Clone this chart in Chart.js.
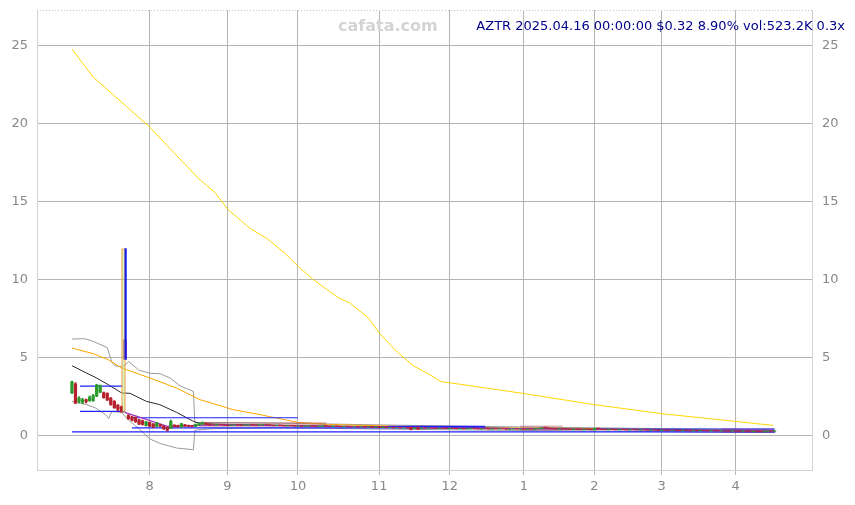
<!DOCTYPE html>
<html>
<head>
<meta charset="utf-8">
<script src="https://cdn.jsdelivr.net/npm/chart.js@4.4.1/dist/chart.umd.min.js"></script>
<style>
  html, body { margin: 0; padding: 0; background: #fff; }
  #wrap { position: relative; width: 855px; height: 505px; }
  #chart { display: block; }
  #mark { position: absolute; left: 338px; top: 16px; font: bold 16px "DejaVu Sans"; color: #d4d4d4; }
  #label { position: absolute; right: 10px; top: 18px; font: 13px "DejaVu Sans"; color: #00008b; white-space: nowrap; }
</style>
</head>
<body>
<div id="wrap">
  <canvas id="chart" width="855" height="505"></canvas>
  <div id="mark">cafata.com</div>
  <div id="label">AZTR 2025.04.16 00:00:00 $0.32 8.90% vol:523.2K 0.3x</div>
</div>
<script>
// daily candles, one per trading day from 2024-07-01 to 2025-04-16
const opens = [
  2.75,3.30,2.20,2.15,2.30,2.25,2.25,2.55,2.80,2.75,
  2.70,2.40,2.20,1.95,1.85,6.15,1.30,1.20,1.15,1.00,
  0.95,0.65,0.85,0.75,0.60,0.70,0.62,0.52,0.47,0.68,
  0.65,0.56,0.70,0.66,0.64,0.60,0.68,0.75,0.80,0.74,
  0.70,0.67,0.73,0.70,0.67,0.64,0.67,0.71,0.68,0.65,
  0.68,0.72,0.69,0.66,0.69,0.72,0.70,0.67,0.64,0.68,
  0.66,0.62,0.67,0.65,0.60,0.64,0.59,0.61,0.66,0.62,
  0.58,0.60,0.65,0.61,0.58,0.63,0.60,0.56,0.61,0.59,
  0.55,0.59,0.54,0.58,0.53,0.57,0.52,0.56,0.51,0.55,
  0.50,0.54,0.49,0.53,0.48,0.52,0.55,0.45,0.55,0.44,
  0.50,0.46,0.51,0.49,0.45,0.50,0.48,0.44,0.49,0.47,
  0.43,0.47,0.42,0.44,0.48,0.45,0.41,0.46,0.44,0.40,
  0.45,0.41,0.46,0.44,0.39,0.41,0.45,0.40,0.44,0.39,
  0.43,0.40,0.44,0.46,0.55,0.51,0.47,0.45,0.41,0.46,
  0.44,0.42,0.38,0.43,0.41,0.37,0.42,0.40,0.36,0.49,
  0.43,0.41,0.37,0.42,0.40,0.36,0.41,0.39,0.35,0.40,
  0.38,0.34,0.39,0.37,0.33,0.38,0.36,0.32,0.37,0.35,
  0.32,0.36,0.34,0.30,0.35,0.33,0.29,0.34,0.30,0.35,
  0.33,0.29,0.34,0.32,0.28,0.33,0.31,0.27,0.32,0.30,
  0.27,0.31,0.29,0.25,0.30,0.28,0.24,0.27,0.31,0.28
];
const closes = [
  3.45,2.10,2.40,2.30,2.20,2.45,2.55,3.25,3.20,2.45,
  2.30,2.00,1.80,1.70,1.55,4.90,1.10,1.00,0.90,0.75,
  0.72,0.88,0.62,0.56,0.82,0.62,0.45,0.35,0.90,0.60,
  0.58,0.76,0.62,0.60,0.58,0.72,0.78,0.82,0.72,0.70,
  0.68,0.72,0.70,0.66,0.64,0.68,0.70,0.67,0.65,0.69,
  0.71,0.68,0.66,0.70,0.72,0.69,0.66,0.64,0.67,0.65,
  0.63,0.66,0.64,0.61,0.63,0.60,0.62,0.65,0.61,0.59,
  0.61,0.64,0.60,0.58,0.62,0.59,0.57,0.60,0.58,0.56,
  0.58,0.55,0.57,0.54,0.56,0.53,0.55,0.52,0.54,0.51,
  0.53,0.50,0.52,0.49,0.51,0.48,0.38,0.50,0.40,0.49,
  0.47,0.50,0.48,0.46,0.49,0.47,0.45,0.48,0.46,0.44,
  0.46,0.43,0.45,0.47,0.44,0.42,0.45,0.43,0.41,0.44,
  0.42,0.45,0.43,0.40,0.42,0.44,0.41,0.43,0.40,0.42,
  0.41,0.44,0.47,0.52,0.50,0.46,0.44,0.42,0.45,0.43,
  0.41,0.39,0.42,0.40,0.38,0.41,0.39,0.37,0.48,0.42,
  0.40,0.38,0.41,0.39,0.37,0.40,0.38,0.36,0.39,0.37,
  0.35,0.38,0.36,0.34,0.37,0.35,0.33,0.36,0.34,0.32,
  0.35,0.33,0.31,0.34,0.32,0.30,0.33,0.31,0.34,0.32,
  0.30,0.33,0.31,0.29,0.32,0.30,0.28,0.31,0.29,0.27,
  0.30,0.28,0.26,0.29,0.27,0.25,0.28,0.30,0.29,0.32
];
// wicks, only where they are big enough to see (first 40 days)
const highs = [
  3.50,3.40,2.50,2.40,2.35,2.55,2.65,3.30,3.25,2.80,
  2.75,2.45,2.25,2.00,1.90,12.0,1.35,1.25,1.20,1.05,
  1.00,0.92,0.88,0.78,0.85,0.74,0.65,0.55,1.00,0.70,
  0.68,0.80,0.72,0.68,0.66,0.75,0.82,0.88,0.82,0.77
];
const lows = [
  2.70,2.05,2.10,2.05,2.10,2.20,2.20,2.50,2.75,2.40,
  2.25,1.95,1.75,1.60,1.50,4.90,1.05,0.95,0.85,0.70,
  0.68,0.62,0.58,0.52,0.58,0.58,0.40,0.30,0.45,0.56,
  0.55,0.54,0.60,0.58,0.56,0.58,0.66,0.73,0.70,0.67
];

// spike day highlight
const spikeDay = 15;
const spikeRange = [1.47, 12.0];

// x axis: trading-day index of each month start
const monthStarts = [22, 44, 64, 87, 107, 128, 148, 167, 188];
const monthLabels = ['8', '9', '10', '11', '12', '1', '2', '3', '4'];
const priceTicks = [0, 5, 10, 15, 20, 25];

// indicator lines, read at a few days each
const goldDays = [0,6,15.5,22,27.8,36.3,40.5,44.2,50.4,55.5,60.3,64.1,68.4,75.4,78.8,83.9,87,91.5,96.6,101.4,104.5,106.8,127.5,147.7,167.1,187.8,198.6];
const goldVals = [24.8,23.0,21.1,19.8,18.4,16.4,15.6,14.5,13.3,12.6,11.7,10.85,10.0,8.85,8.5,7.56,6.6,5.5,4.5,3.9,3.46,3.4,2.72,2.0,1.41,0.92,0.66];

const orangeDays = [0,6,10.3,14.1,22.1,29.6,36.3,45.6,53.3,64,73,93,121,150,178,199];
const orangeVals = [5.62,5.26,4.87,4.34,3.7,3.06,2.31,1.67,1.35,0.85,0.72,0.6,0.5,0.45,0.38,0.33];

const blackDays = [0,4.1,7,10.3,14.1,16.4,21.1,24.9,29.6,34.4,36.3,45,70,100,130,160,199];
const blackVals = [4.49,4.02,3.7,3.27,2.74,2.72,2.2,1.99,1.5,0.92,0.77,0.72,0.62,0.55,0.45,0.4,0.3];

const upperDays = [0,3.6,6,10,11.3,12,14.3,16.1,19,22.1,25,27.8,30.6,34.4,34.8,40,60,90,120,150,180,199];
const upperVals = [6.2,6.22,6.05,5.65,4.72,4.5,4.4,4.75,4.2,4.0,3.97,3.7,3.2,2.84,0.85,0.85,0.8,0.68,0.58,0.5,0.42,0.37];

const lowerDays = [0,4,6.5,9.5,10.4,11.3,14,16,19,22,25,29.6,34.4,34.8,40,60,90,120,150,180,199];
const lowerVals = [2.2,2.0,1.8,1.35,1.1,1.55,1.5,1.0,0.45,-0.2,-0.5,-0.79,-0.9,0.35,0.45,0.5,0.42,0.35,0.3,0.22,0.2];

const purpleDays = [14,20,27,40,60,80,100,120,140,160,180,199];
const purpleVals = [1.56,1.13,0.6,0.7,0.65,0.58,0.5,0.47,0.42,0.38,0.33,0.3];

// horizontal price levels: first day, last day, price
const levelFrom = [2.3, 2.3, 17, 17, 89.5, 0, 148];
const levelTo = [14.4, 15, 64, 117, 117, 199.2, 199];
const levelPrice = [3.18, 1.56, 1.15, 0.5, 0.6, 0.25, 0.43];

// shaded price zones: first day, last day, price
const zoneFrom = [36, 127, 184];
const zoneTo = [72, 139, 199];
const zonePrice = [0.72, 0.5, 0.33];

const upColor = '#2e9a2e';
const downColor = '#b5222d';

const days = opens.map((_, i) => i);
const colors = days.map(i => closes[i] >= opens[i] ? upColor : downColor);

function curve(xs, ys, color, width, order) {
  return {
    type: 'line',
    data: xs.map((x, k) => ({ x: x, y: ys[k] })),
    borderColor: color,
    borderWidth: width,
    pointRadius: 0,
    tension: 0,
    fill: false,
    order: order
  };
}

const datasets = [
  {
    // wicks on top, so the blue spike wick stays bright
    type: 'bar',
    data: highs.map((h, i) => ({ x: i === spikeDay ? i + 0.2 : i, y: [lows[i], h] })),
    backgroundColor: highs.map((h, i) => i === spikeDay ? '#1414f0' : colors[i]),
    barThickness: 1.5,
    grouped: false,
    order: 0
  },
  {
    type: 'bar',
    data: [{ x: spikeDay - 0.4, y: spikeRange }],
    backgroundColor: 'rgba(190,225,120,0.45)',
    borderColor: 'rgba(235,150,60,0.7)',
    borderWidth: 1,
    barThickness: 4,
    grouped: false,
    order: 0.5
  },
  {
    type: 'bar',
    data: days.map(i => ({ x: i, y: [opens[i], closes[i]] })),
    backgroundColor: days.map(i => i === spikeDay ? '#8a1f5a' : colors[i]),
    barThickness: 2.6,
    grouped: false,
    order: 1
  },
  curve(purpleDays, purpleVals, '#a035c0', 1.2, 3),
  curve(blackDays, blackVals, '#2a2a2a', 1, 6),
  curve(orangeDays, orangeVals, '#ffa500', 1, 7),
  curve(upperDays, upperVals, '#9a9a9a', 1, 8),
  curve(lowerDays, lowerVals, '#9a9a9a', 1, 8),
  curve(goldDays, goldVals, '#ffd700', 1, 9)
];

levelPrice.forEach((p, k) => {
  datasets.push(curve([levelFrom[k], levelTo[k]], [p, p], '#2020ff', 1.2, 4));
});
zonePrice.forEach((p, k) => {
  datasets.push(curve([zoneFrom[k], zoneTo[k]], [p, p], 'rgba(165,70,80,0.35)', 5, 5));
});

const topBorder = {
  id: 'topBorder',
  afterDraw(chart) {
    const { ctx, chartArea: a } = chart;
    ctx.save();
    ctx.strokeStyle = '#c4c4c4';
    ctx.lineWidth = 1;
    ctx.setLineDash([1, 2]);
    ctx.beginPath();
    ctx.moveTo(a.left, a.top + 0.5);
    ctx.lineTo(a.right, a.top + 0.5);
    ctx.stroke();
    ctx.restore();
  }
};

Chart.defaults.font.family = 'DejaVu Sans';

const tickFont = { size: 13 };
const gridColor = '#b4b4b4';
const edgeColor = '#d2d2d2';

function fixWidth(w) {
  return axis => {
    axis.width = w;
    axis.paddingTop = 0;
    axis.paddingBottom = 0;
  };
}

new Chart(document.getElementById('chart'), {
  type: 'bar',
  data: { datasets: datasets },
  plugins: [topBorder],
  options: {
    responsive: false,
    animation: false,
    devicePixelRatio: 1,
    layout: { padding: { top: 10 } },
    plugins: { legend: { display: false }, tooltip: { enabled: false } },
    scales: {
      x: {
        type: 'linear',
        min: -9.9,
        max: 209.6,
        offset: false,
        afterBuildTicks: axis => { axis.ticks = monthStarts.map(v => ({ value: v })); },
        afterFit: axis => { axis.height = 35; axis.paddingLeft = 0; axis.paddingRight = 0; },
        ticks: { callback: (v, i) => monthLabels[i], color: '#888', font: tickFont, padding: 4, maxRotation: 0 },
        grid: { color: gridColor, tickLength: 5, offset: false },
        border: { color: edgeColor }
      },
      y: {
        position: 'left',
        min: -2.2,
        max: 27.3,
        afterBuildTicks: axis => { axis.ticks = priceTicks.map(v => ({ value: v })); },
        afterFit: fixWidth(37),
        ticks: { color: '#888', font: tickFont, padding: 9 },
        grid: { color: gridColor, drawTicks: false },
        border: { color: edgeColor }
      },
      y2: {
        position: 'right',
        min: -2.2,
        max: 27.3,
        afterBuildTicks: axis => { axis.ticks = priceTicks.map(v => ({ value: v })); },
        afterFit: fixWidth(43),
        ticks: { color: '#888', font: tickFont, padding: 10 },
        grid: { display: false, drawTicks: false },
        border: { color: edgeColor }
      }
    }
  }
});
</script>
</body>
</html>
